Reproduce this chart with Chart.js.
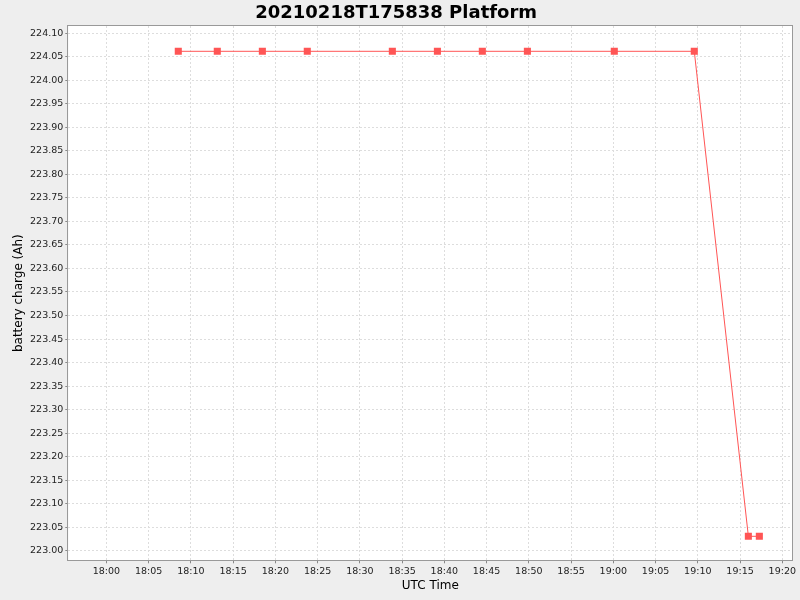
<!DOCTYPE html>
<html>
<head>
<meta charset="utf-8">
<script src="https://cdn.jsdelivr.net/npm/chart.js@4/dist/chart.umd.min.js"></script>
<style>
    html, body { margin: 0; padding: 0; background: #eeeeee; }
    canvas { display: block; }
</style>
</head>
<body>
<canvas id="chart" width="800" height="600"></canvas>
<script>
// Данные с графика
const sampleTimes = ['18:08:31', '18:13:08', '18:18:28', '18:23:47', '18:33:51', '18:39:11',
                     '18:44:30', '18:49:50', '19:00:07', '19:09:35', '19:15:59', '19:17:17'];
const chargeValues = [224.0617, 224.0617, 224.0617, 224.0617, 224.0617, 224.0617,
                      224.0617, 224.0617, 224.0617, 224.0617, 223.0306, 223.0306];
const xTickLabels = ['18:00', '18:05', '18:10', '18:15', '18:20', '18:25', '18:30', '18:35',
                     '18:40', '18:45', '18:50', '18:55', '19:00', '19:05', '19:10', '19:15', '19:20'];
const yTickValues = [223.00, 223.05, 223.10, 223.15, 223.20, 223.25, 223.30, 223.35, 223.40,
                     223.45, 223.50, 223.55, 223.60, 223.65, 223.70, 223.75, 223.80, 223.85,
                     223.90, 223.95, 224.00, 224.05, 224.10];
const xRange = ['17:55:30', '19:21:11'];
const yRange = [222.9796, 224.1155];

// Время "чч:мм[:сс]" -> минуты от полуночи
function toMinutes(str) {
    const parts = str.split(':').map(Number);
    return parts[0] * 60 + parts[1] + (parts[2] || 0) / 60;
}

const points = sampleTimes.map((t, i) => ({ x: toMinutes(t), y: chargeValues[i] }));

const tickFont = { family: 'DejaVu Sans', size: 9.5 };
const gridOpts = {
    color: '#dddddd',
    tickColor: '#888888',
    tickLength: 3,
    lineWidth: 1
};

// Белый фон области построения и рамка
const plotAreaPlugin = {
    id: 'plotArea',
    beforeDraw(chart) {
        const { ctx, chartArea: a } = chart;
        ctx.save();
        ctx.fillStyle = '#ffffff';
        ctx.fillRect(a.left, a.top, a.right - a.left, a.bottom - a.top);
        ctx.restore();
    },
    afterDraw(chart) {
        const { ctx, chartArea: a } = chart;
        ctx.save();
        ctx.strokeStyle = '#999999';
        ctx.lineWidth = 1;
        ctx.strokeRect(Math.round(a.left) - 0.5, Math.round(a.top) - 0.5,
                       Math.round(a.right - a.left) + 1, Math.round(a.bottom - a.top) + 1);
        ctx.restore();
    }
};

new Chart(document.getElementById('chart'), {
    type: 'line',
    data: {
        datasets: [{
            label: 'battery charge',
            data: points,
            borderColor: '#ff5555',
            backgroundColor: '#ff5555',
            borderWidth: 1,
            pointStyle: 'rect',
            pointRadius: 5,
            pointBorderWidth: 0,
            tension: 0,
            fill: false
        }]
    },
    options: {
        responsive: false,
        animation: false,
        devicePixelRatio: 1,
        layout: { padding: { top: 0, right: 7.7, bottom: 0, left: 0 } },
        plugins: {
            legend: { display: false },
            tooltip: { enabled: false },
            title: {
                display: true,
                text: '20210218T175838 Platform',
                color: '#000000',
                font: { family: 'DejaVu Sans', size: 18, weight: 'bold' },
                padding: { top: 3, bottom: 1.4 }
            }
        },
        scales: {
            x: {
                type: 'linear',
                min: toMinutes(xRange[0]),
                max: toMinutes(xRange[1]),
                afterBuildTicks: scale => {
                    scale.ticks = xTickLabels.map(l => ({ value: toMinutes(l) }));
                },
                afterFit: scale => { scale.height = 39.7; },
                ticks: {
                    autoSkip: false,
                    maxRotation: 0,
                    color: '#222222',
                    font: tickFont,
                    padding: 3,
                    callback: (value, index) => xTickLabels[index]
                },
                grid: gridOpts,
                border: { display: false, dash: [2, 2] },
                title: {
                    display: true,
                    text: 'UTC Time',
                    color: '#000000',
                    font: { family: 'DejaVu Sans', size: 12 },
                    padding: { top: 0, bottom: 6.8 }
                }
            },
            y: {
                min: yRange[0],
                max: yRange[1],
                afterBuildTicks: scale => {
                    scale.ticks = yTickValues.map(v => ({ value: v }));
                },
                afterFit: scale => { scale.width = 68.3; },
                ticks: {
                    autoSkip: false,
                    color: '#222222',
                    font: tickFont,
                    padding: 2,
                    callback: value => value.toFixed(2)
                },
                grid: gridOpts,
                border: { display: false, dash: [2, 2] },
                title: {
                    display: true,
                    text: 'battery charge (Ah)',
                    color: '#000000',
                    font: { family: 'DejaVu Sans', size: 12 },
                    padding: { top: 11.5, bottom: 0 }
                }
            }
        }
    },
    plugins: [plotAreaPlugin]
});
</script>
</body>
</html>
